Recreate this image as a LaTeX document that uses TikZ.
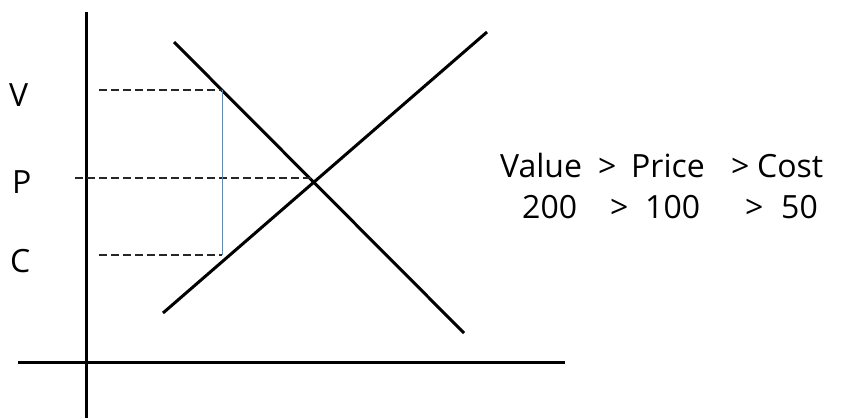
\documentclass[tikz,border=0pt]{standalone}
\usepackage{fontspec}
\setmainfont{Open Sans}
\definecolor{guideblue}{RGB}{96,136,178}
\usetikzlibrary{positioning}

\begin{document}
\begin{tikzpicture}[x=1pt, y=-1pt,
    axis/.style={line width=3pt, black},
    curve/.style={line width=3pt, black},
    guide/.style={line width=1.1pt, dash pattern=on 8pt off 4pt, black!85},
    gap/.style={line width=0.9pt, guideblue},
    lbl/.style={font=\fontsize{32}{38}\selectfont, inner sep=0pt, anchor=base west}
  ]
  \useasboundingbox (0,0) rectangle (842,418);
  % axes
  \coordinate (ytop) at (86,12);
  \coordinate (ybot) at (86,418);
  \coordinate (xl) at (18,362);
  \coordinate (xr) at (565,362);
  \draw[axis] (ytop) -- (ybot);
  \draw[axis] (xl) -- (xr);
  % demand and supply
  \coordinate (d1) at (174,42);
  \coordinate (d2) at (464,333);
  \coordinate (s1) at (163,313);
  \coordinate (s2) at (487,32);
  \draw[curve] (d1) -- (d2);
  \draw[curve] (s1) -- (s2);
  % guide lines
  \coordinate (v0) at (99,90);
  \coordinate (v1) at (222,90);
  \coordinate (p0) at (75,178);
  \coordinate (p1) at (313,178);
  \coordinate (c0) at (99,255);
  \coordinate (c1) at (222,255);
  \draw[guide] (v0) -- (v1);
  \draw[guide] (p0) -- (p1);
  \draw[guide] (c0) -- (c1);
  \draw[gap] (v1) -- (c1);
  % axis labels
  \node[lbl] (lv) at (9,106) {V};
  \node[lbl] (lp) at (12,193) {P};
  \node[lbl] (lc) at (10,272) {C};
  % comparison text
  \node[lbl] (value) at (500,177) {Value};
  \node[lbl] (gt1) at (598,177) {\textgreater};
  \node[lbl] (price) at (631,177) {Price};
  \node[lbl] (gt2) at (731,177) {\textgreater};
  \node[lbl] (cost) at (757,177) {Cost};
  \node[lbl] (n200) at (522,218) {200};
  \node[lbl] (gt3) at (610,218) {\textgreater};
  \node[lbl] (n100) at (645,218) {100};
  \node[lbl] (gt4) at (745,218) {\textgreater};
  \node[lbl] (n50) at (781,218) {50};
\end{tikzpicture}
\end{document}
